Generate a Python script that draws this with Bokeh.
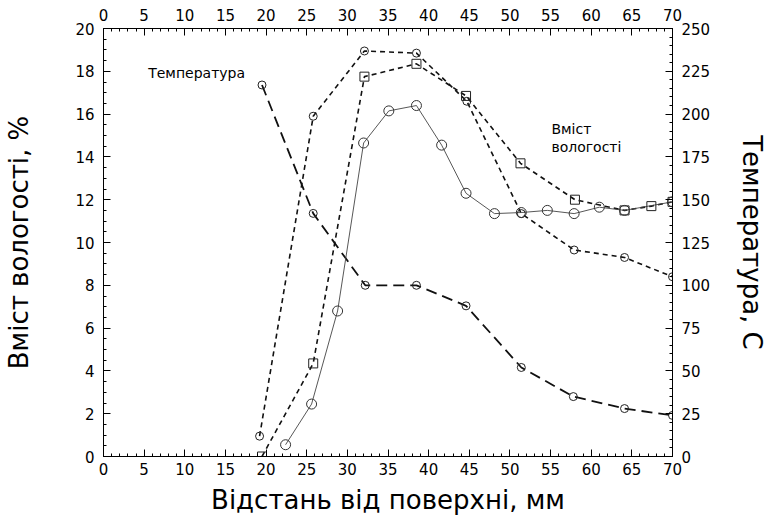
from bokeh.plotting import figure
from bokeh.models import (Range1d, LinearAxis, SingleIntervalTicker, Label)
from bokeh.embed import file_html
from bokeh.resources import INLINE

# Temperature (right axis, °C)
temp_x = [19.5, 25.8, 32.2, 38.5, 44.6, 51.4, 57.8, 64.1, 70.0]
temp_y = [217, 142, 100, 100, 88, 52, 35, 28, 24]

# Moisture series A (short dash, circles)
ma_x = [19.2, 25.8, 32.1, 38.5, 44.7, 51.4, 57.9, 64.1, 70.0]
ma_y = [0.95, 15.9, 18.95, 18.85, 16.6, 11.35, 9.65, 9.3, 8.4]

# Moisture series B (dash, squares)
mb_x = [19.5, 25.8, 32.1, 38.5, 44.6, 51.3, 58.0, 64.1, 67.4, 70.0]
mb_y = [0.0, 4.35, 17.75, 18.35, 16.85, 13.7, 12.0, 11.5, 11.7, 11.9]

# Moisture series C (solid thin, circles)
mc_x = [22.4, 25.6, 28.8, 32.0, 35.1, 38.5, 41.6, 44.6, 48.1, 51.4, 54.6, 57.9, 61.0, 64.1, 70.0]
mc_y = [0.55, 2.45, 6.8, 14.65, 16.15, 16.4, 14.55, 12.3, 11.35, 11.4, 11.5, 11.35, 11.65, 11.5, 11.9]

x_label = "Відстань від поверхні, мм"
y_label = "Вміст вологості, %"
y2_label = "Температура, С"
note_temp = "Температура"
note_m1 = "Вміст"
note_m2 = "вологості"

FONT = "DejaVu Sans"

p = figure(width=772, height=521, output_backend="svg", toolbar_location=None,
           x_range=Range1d(0, 70), y_range=Range1d(0, 20),
           min_border_left=103, min_border_right=100,
           min_border_top=28, min_border_bottom=65)
p.extra_y_ranges = {"temp": Range1d(0, 250)}
p.xgrid.visible = False
p.ygrid.visible = False
p.outline_line_color = "black"
p.outline_line_width = 1
p.background_fill_color = "white"
p.border_fill_color = "white"

def style_axis(ax, label_size="15px"):
    ax.axis_line_color = "black"
    ax.major_tick_in = 7
    ax.major_tick_out = 0
    ax.minor_tick_in = 3
    ax.minor_tick_out = 0
    ax.major_tick_line_color = "black"
    ax.minor_tick_line_color = "black"
    ax.major_label_text_font = FONT
    ax.major_label_text_font_size = label_size
    ax.major_label_text_color = "black"
    ax.axis_label_text_font = FONT
    ax.axis_label_text_font_size = "26px"
    ax.axis_label_text_font_style = "normal"
    ax.axis_label_text_color = "black"

# bottom axis
xb = p.xaxis[0]
xb.ticker = SingleIntervalTicker(interval=5, num_minor_ticks=5)
style_axis(xb)
xb.axis_label = x_label
xb.major_label_standoff = 6
xb.axis_label_standoff = 7

# left axis
yl = p.yaxis[0]
yl.ticker = SingleIntervalTicker(interval=2, num_minor_ticks=4)
style_axis(yl)
yl.axis_label = y_label
yl.major_label_standoff = 9
yl.axis_label_standoff = 38

# top axis
xt = LinearAxis(ticker=SingleIntervalTicker(interval=5, num_minor_ticks=5))
style_axis(xt)
xt.major_label_standoff = 8
p.add_layout(xt, "above")

# right axis
yr = LinearAxis(y_range_name="temp", ticker=SingleIntervalTicker(interval=25, num_minor_ticks=5))
style_axis(yr)
yr.axis_label = y2_label
yr.major_label_standoff = 9
yr.axis_label_standoff = 24
p.add_layout(yr, "right")

# lines
p.line(temp_x, temp_y, y_range_name="temp", line_color="#111111", line_width=1.8, line_dash="11 6")
p.line(ma_x, ma_y, line_color="#111111", line_width=1.6, line_dash="5 4")
p.line(mb_x, mb_y, line_color="#111111", line_width=1.6, line_dash="5 4")
p.line(mc_x, mc_y, line_color="#444444", line_width=0.9)

# markers
p.scatter(temp_x, temp_y, y_range_name="temp", marker="circle", size=8,
          line_color="#222222", fill_color=None, line_width=1)
p.scatter(ma_x, ma_y, marker="circle", size=8, line_color="#222222", fill_color=None, line_width=1)
p.scatter(mb_x, mb_y, marker="square", size=9, line_color="#222222", fill_color=None, line_width=1)
p.scatter(mc_x, mc_y, marker="circle", size=10, line_color="#333333", fill_color=None, line_width=1)

for txt, x, y, size in [(note_temp, 5.5, 17.9, "14px"),
                        (note_m1, 55.1, 15.3, "14px"),
                        (note_m2, 55.1, 14.45, "14px")]:
    p.add_layout(Label(x=x, y=y, text=txt, text_font=FONT, text_font_size=size,
                       text_baseline="middle", text_align="left", text_color="black"))

open("out.html", "w").write(file_html(p, INLINE))
